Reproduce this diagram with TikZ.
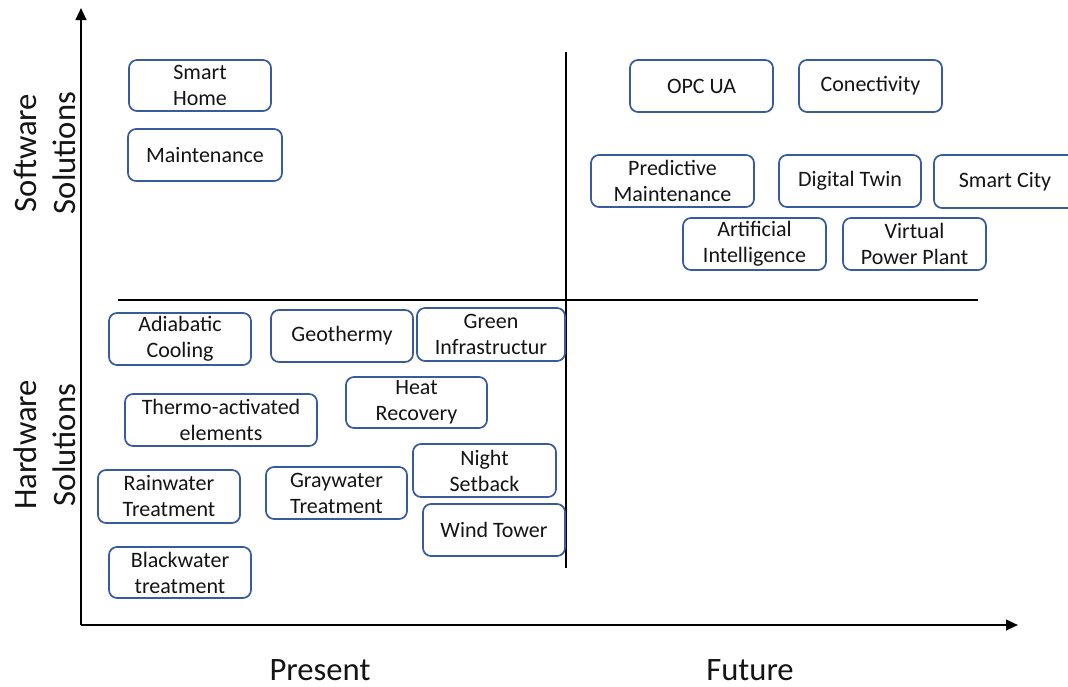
\documentclass[tikz,border=0pt]{standalone}
\usepackage{fontspec}
\setmainfont{Carlito}
\usetikzlibrary{arrows.meta}
\definecolor{boxblue}{RGB}{55,90,160}
\definecolor{txt}{RGB}{20,20,20}
\tikzset{
  box/.style={draw=boxblue, line width=1.3pt, rounded corners=6pt, fill=white,
    inner sep=0pt, align=center, text=txt, font=\fontsize{16.5}{19.5}\selectfont},
  axis/.style={line width=1.6pt, -{Triangle[length=9pt,width=8pt]}},
  divider/.style={line width=0.9pt},
  axlabel/.style={text=txt, font=\fontsize{24.5}{29}\selectfont, align=center, inner sep=0pt}
}
% name, x1, y1, x2, y2, text  (pixel corners)
\newcommand{\mybox}[6]{%
  \pgfmathsetmacro\bxcx{(#2+#4)/2}%
  \pgfmathsetmacro\bxcy{(#3+#5)/2}%
  \pgfmathsetmacro\bxw{(#4-#2)*0.75}%
  \pgfmathsetmacro\bxh{(#5-#3)*0.75}%
  \node[box, minimum width=\bxw pt, minimum height=\bxh pt] (#1) at (\bxcx,\bxcy) {#6};}
\begin{document}
\begin{tikzpicture}[x=0.75pt,y=-0.75pt]
\clip (0,0) rectangle (1068,686);
% axes
\coordinate (o) at (81,625);
\coordinate (ytop) at (81,8);
\coordinate (xend) at (1018,625);
\draw[axis] (o) -- (ytop);
\draw[axis] (o) -- (xend);
% dividers
\coordinate (vtop) at (566,52);
\coordinate (vbot) at (566,568);
\coordinate (hl) at (118,300);
\coordinate (hr) at (978,300);
\draw[divider] (vtop) -- (vbot);
\draw[divider] (hl) -- (hr);
% axis labels
\node[axlabel, anchor=base] (present) at (320,680) {Present};
\node[axlabel, anchor=base] (future) at (750,680) {Future};
\node[axlabel, rotate=90] (sw) at (45,153) {Software\\Solutions};
\node[axlabel, rotate=90] (hw) at (45,445) {Hardware\\Solutions};
% software, present
\mybox{smarthome}{129}{60}{271}{111}{Smart\\Home}
\mybox{maint}{128}{129}{282}{181}{Maintenance}
% software, future
\mybox{opc}{630}{60}{773}{112}{OPC UA}
\mybox{conn}{799}{60}{942}{112}{Conectivity}
\mybox{predm}{591}{155}{754}{207}{Predictive\\Maintenance}
\mybox{dtwin}{779}{155}{921}{207}{Digital Twin}
\mybox{scity}{934}{155}{1076}{208}{Smart City}
\mybox{ai}{683}{218}{826}{270}{Artificial\\Intelligence}
\mybox{vpp}{843}{218}{986}{270}{Virtual\\Power Plant}
% hardware, present
\mybox{adiab}{109}{313}{251}{365}{Adiabatic\\Cooling}
\mybox{geo}{271}{310}{413}{362}{Geothermy}
\mybox{green}{417}{308}{565}{361}{Green\\Infrastructur}
\mybox{heat}{346}{377}{487}{428}{Heat\\Recovery}
\mybox{thermo}{125}{394}{317}{446}{Thermo-activated\\elements}
\mybox{night}{413}{444}{556}{497}{Night\\Setback}
\mybox{rain}{98}{470}{240}{523}{Rainwater\\Treatment}
\mybox{gray}{266}{467}{407}{519}{Graywater\\Treatment}
\mybox{wind}{423}{504}{565}{556}{Wind Tower}
\mybox{black}{109}{547}{251}{598}{Blackwater\\treatment}
\end{tikzpicture}
\end{document}
